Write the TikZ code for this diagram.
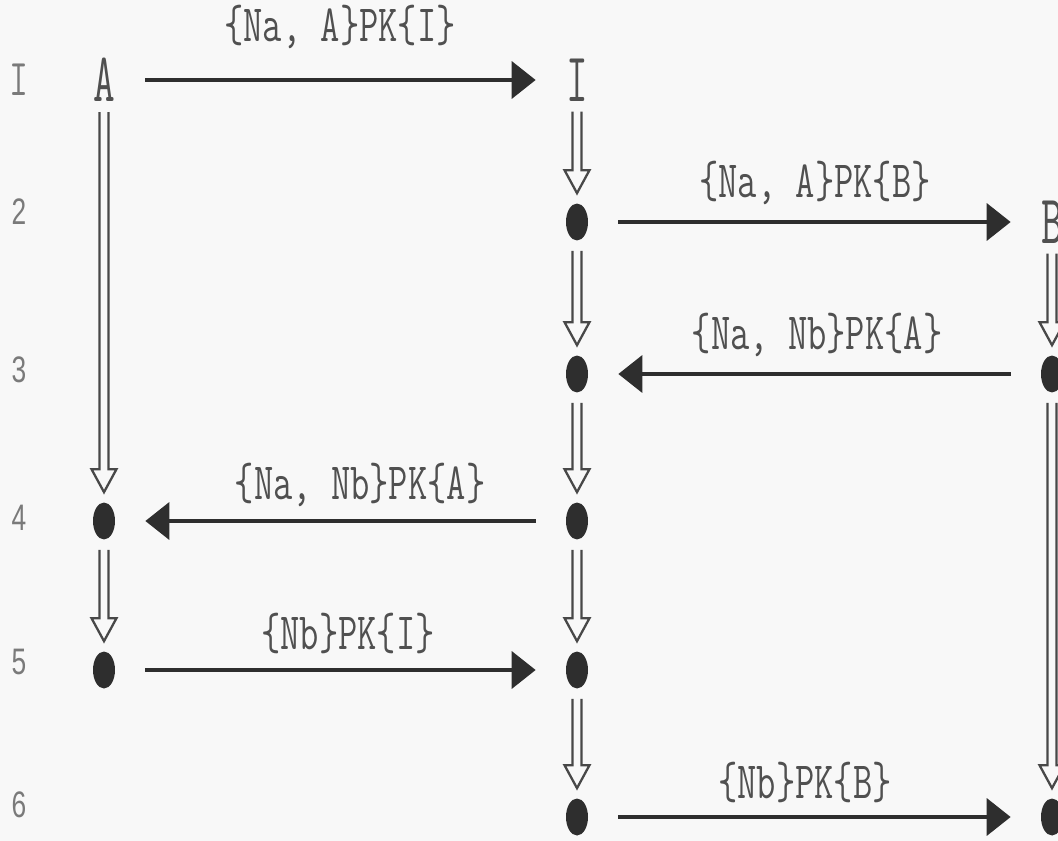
\documentclass[tikz,border=0pt]{standalone}
\usepackage{fontspec}
\setsansfont{Liberation Sans}
\usetikzlibrary{arrows.meta,calc,shapes.geometric}
\definecolor{paper}{HTML}{F8F8F8}
\definecolor{ink}{HTML}{2E2E2E}
\definecolor{txtgray}{HTML}{505050}
\definecolor{numgray}{HTML}{7A7A7A}
\newcommand{\tallmsg}[1]{\scalebox{1}[1.4]{#1}}
\newcommand{\tallname}[1]{\scalebox{1}[1.65]{#1}}
\tikzset{
event/.style={ellipse, fill=ink, inner sep=0pt, minimum width=0.44cm, minimum height=0.74cm},
agent/.style={rectangle, inner sep=0pt, minimum width=0.44cm, text=txtgray, font=\ttfamily\fontsize{24}{24}\selectfont},
rownum/.style={text=numgray, font=\sffamily\fontsize{15}{15}\selectfont},
msglabel/.style={text=txtgray, font=\ttfamily\fontsize{21.3}{22}\selectfont},
msg/.style={draw=ink, line width=2.2pt, -{Triangle[length=0.48cm, width=0.74cm]}, shorten <=0.6cm, shorten >=0.6cm},
next/.style={draw=txtgray!90!black, line width=1.3pt, line join=miter, to path={
($(\tikztostart.south)+(-4.5,10)$) -- ($(\tikztotarget.north)+(-4.5,-33)$)
-- ($(\tikztotarget.north)+(-12.5,-33)$) -- ($(\tikztotarget.north)+(0,-10)$)
-- ($(\tikztotarget.north)+(12.5,-33)$) -- ($(\tikztotarget.north)+(4.5,-33)$)
-- ($(\tikztostart.south)+(4.5,10)$)}}
}

\begin{document}
\begin{tikzpicture}[x=0.02cm, y=-0.02cm]
\useasboundingbox (0,0) rectangle (1058,841);
\fill[paper] (0,0) rectangle (1058,841);

\node[rownum, font=\ttfamily\fontsize{21}{21}\selectfont] (n1) at (19,80) {\tallmsg{I}};
\foreach \n/\y in {2/212, 3/370, 4/518, 5/662, 6/805} {
\node[rownum] (n\n) at (19,\y) {\tallmsg{\n}};
}

\node[agent] (A) at (104,80) {\tallname{A}};
\node[agent] (I) at (577,80) {\tallname{I}};
\node[agent] (B) at (1052,222) {\tallname{B}};

\node[event] (a4) at (104,521) {};
\node[event] (a5) at (104,670) {};
\node[event] (i2) at (577,222) {};
\node[event] (i3) at (577,374) {};
\node[event] (i4) at (577,521) {};
\node[event] (i5) at (577,670) {};
\node[event] (i6) at (577,817) {};
\node[event] (b3) at (1052,374) {};
\node[event] (b6) at (1052,817) {};

\draw[next] (A) to (a4);
\draw[next] (a4) to (a5);
\draw[next] (I) to (i2);
\draw[next] (i2) to (i3);
\draw[next] (i3) to (i4);
\draw[next] (i4) to (i5);
\draw[next] (i5) to (i6);
\draw[next] (B) to (b3);
\draw[next] (b3) to (b6);

\draw[msg] (A) -- (I);
\draw[msg] (i2) -- (B);
\draw[msg] (b3) -- (i3);
\draw[msg] (i4) -- (a4);
\draw[msg] (a5) -- (i5);
\draw[msg] (i6) -- (b6);

\node[msglabel] (m1) at (340,27) {\tallmsg{\{Na, A\}PK\{I\}}};
\node[msglabel] (m2) at (815,183) {\tallmsg{\{Na, A\}PK\{B\}}};
\node[msglabel] (m3) at (817,335) {\tallmsg{\{Na, Nb\}PK\{A\}}};
\node[msglabel] (m4) at (360,485) {\tallmsg{\{Na, Nb\}PK\{A\}}};
\node[msglabel] (m5) at (348,633) {\tallmsg{\{Nb\}PK\{I\}}};
\node[msglabel] (m6) at (805,782) {\tallmsg{\{Nb\}PK\{B\}}};
\end{tikzpicture}
\end{document}
